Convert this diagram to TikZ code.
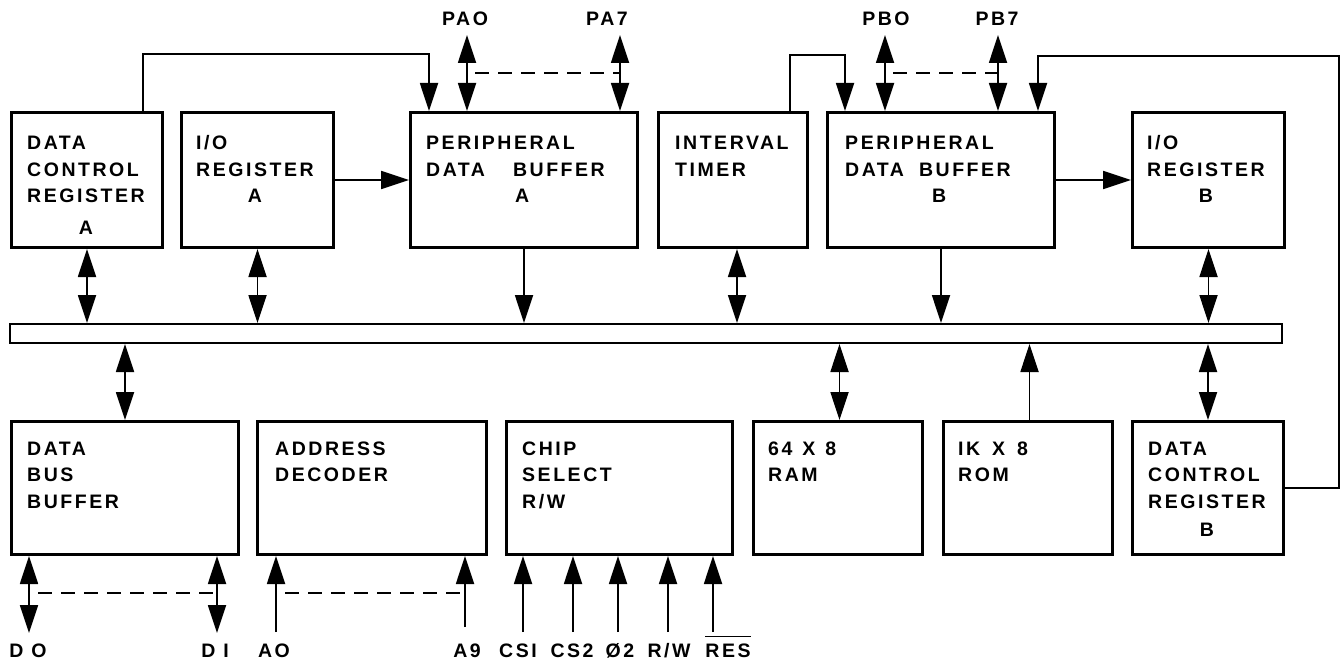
\documentclass[tikz,border=0pt]{standalone}
\usepackage{fontspec}
\newfontfamily\dfont{Liberation Sans}[UprightFont={* Bold}, LetterSpace=13]
\usetikzlibrary{arrows.meta}
\newcommand\tb[1]{\begin{tabular}[t]{@{}l@{}}#1\end{tabular}}
\newcommand\cc[1]{\multicolumn{1}{@{}c@{}}{#1}}
\newcommand\ovl[1]{\vbox{\hrule height 1.6pt\kern 6pt\hbox{#1}}}
\begin{document}
\begin{tikzpicture}[x=1pt,y=-1pt,
  box/.style={draw, line width=3pt, rectangle, inner sep=0pt, anchor=north west},
  txt/.style={inner sep=0pt, anchor=base west, font=\dfont\fontsize{19.5}{26.5}\selectfont},
  lbl/.style={inner sep=0pt, anchor=base, font=\dfont\fontsize{19.5}{26.5}\selectfont},
  arr/.style={line width=1.8pt, -{Triangle[length=28pt,width=18pt]}},
  dbl/.style={line width=1.8pt, {Triangle[length=28pt,width=18pt]}-{Triangle[length=28pt,width=18pt]}},
  dsh/.style={line width=1.8pt, dash pattern=on 14pt off 9pt}]
\useasboundingbox (0,0) rectangle (1343,663);
% top row
\node[box, minimum width=151pt, minimum height=135pt] (dcra) at (10,111) {};
\node[box, minimum width=152pt, minimum height=135pt] (ioa) at (180,111) {};
\node[box, minimum width=227pt, minimum height=135pt] (pdba) at (409,111) {};
\node[box, minimum width=149pt, minimum height=135pt] (tim) at (657,111) {};
\node[box, minimum width=227pt, minimum height=135pt] (pdbb) at (826,111) {};
\node[box, minimum width=152pt, minimum height=135pt] (iob) at (1131,111) {};
% bus
\node[draw, line width=2pt, rectangle, inner sep=0pt, anchor=north west, minimum width=1272pt, minimum height=19pt] (bus) at (9,323) {};
% bottom row
\node[box, minimum width=227pt, minimum height=133pt] (dbb) at (10,420) {};
\node[box, minimum width=229pt, minimum height=133pt] (adr) at (256,420) {};
\node[box, minimum width=226pt, minimum height=133pt] (chip) at (505,420) {};
\node[box, minimum width=169pt, minimum height=133pt] (ram) at (752,420) {};
\node[box, minimum width=169pt, minimum height=133pt] (rom) at (942,420) {};
\node[box, minimum width=151pt, minimum height=133pt] (dcrb) at (1131,420) {};
% texts
\node[txt] (dcra-t) at (27,150) {\tb{DATA\\CONTROL\\REGISTER\\[5.5pt]\cc{A}}};
\node[txt] (ioa-t) at (196,150) {\tb{I/O\\REGISTER\\\cc{A}}};
\node[txt] (pdba-t) at (426,150) {\tb{PERIPHERAL\\DATA\hspace{28pt}BUFFER\\\hspace*{89pt}A}};
\node[txt] (tim-t) at (675,150) {\tb{INTERVAL\\TIMER}};
\node[txt] (pdbb-t) at (845,150) {\tb{PERIPHERAL\\DATA\hspace{15pt}BUFFER\\\hspace*{87pt}B}};
\node[txt] (iob-t) at (1147,150) {\tb{I/O\\REGISTER\\\cc{B}}};
\node[txt] (dbb-t) at (27,455) {\tb{DATA\\BUS\\BUFFER}};
\node[txt] (adr-t) at (275,455) {\tb{ADDRESS\\DECODER}};
\node[txt] (chip-t) at (522,455) {\tb{CHIP\\SELECT\\R/W}};
\node[txt] (ram-t) at (768,455) {\tb{64\hspace{10pt}X\hspace{10pt}8\\RAM}};
\node[txt] (rom-t) at (958,455) {\tb{IK\hspace{12pt}X\hspace{12pt}8\\ROM}};
\node[txt] (dcrb-t) at (1148,455) {\tb{DATA\\CONTROL\\REGISTER\\[1.5pt]\cc{B}}};
% top labels
\node[lbl] (pa0l) at (465,26) {PAO};
\node[lbl] (pa7l) at (607,26) {PA7};
\node[lbl] (pb0l) at (886,26) {PBO};
\node[lbl] (pb7l) at (997,26) {PB7};
% bottom labels
\node[lbl] (d0l) at (28,657) {D O};
\node[lbl] (d1l) at (215,657) {D I};
\node[lbl] (a0l) at (274,657) {AO};
\node[lbl] (a9l) at (467,657) {A9};
\node[lbl] (cs1l) at (518,657) {CSI};
\node[lbl] (cs2l) at (572,657) {CS2};
\node[lbl] (phl) at (620,657) {Ø2};
\node[lbl] (rwl) at (669,657) {R/W};
\node[lbl] (resl) at (728,657) {\ovl{RES}};
% feedback lines
\coordinate (ta) at (143,54);
\draw[arr] (ta |- dcra.north) -- (ta) -| ([xshift=20pt]pdba.north west);
\coordinate (tt) at (790,55);
\draw[arr] (tt |- tim.north) -- (tt) -| ([xshift=19pt]pdbb.north west);
\coordinate (rc) at (1339,56);
\draw[arr] (dcrb.east) -| (rc) -| ([xshift=-18pt]pdbb.north east);
% ports
\coordinate (pa0) at (467,35);
\coordinate (pa7) at (620,35);
\coordinate (pb0) at (885,35);
\coordinate (pb7) at (998,35);
\draw[dbl] (pa0) -- (pa0 |- pdba.north);
\draw[dbl] (pa7) -- (pa7 |- pdba.north);
\draw[dbl] (pb0) -- (pb0 |- pdbb.north);
\draw[dbl] (pb7) -- (pb7 |- pdbb.north);
\coordinate (pad) at (475,73);
\draw[dsh] (pad) -- (pad -| pa7);
\coordinate (pbd) at (893,73);
\draw[dsh] (pbd) -- (pbd -| pb7);
% horizontal arrows
\draw[arr] (ioa.east) -- (ioa.east -| pdba.west);
\draw[arr] (pdbb.east) -- (pdbb.east -| iob.west);
% top to bus
\draw[dbl] (dcra.south) -- (dcra.south |- bus.north);
\draw[dbl] (ioa.south) -- (ioa.south |- bus.north);
\draw[arr] (pdba.south) -- (pdba.south |- bus.north);
\draw[dbl] ([xshift=4pt]tim.south) -- ([xshift=4pt]tim.south |- bus.north);
\draw[arr] (pdbb.south) -- (pdbb.south |- bus.north);
\draw[dbl] (iob.south) -- (iob.south |- bus.north);
% bus to bottom
\draw[dbl] (bus.south -| dbb.north) -- (dbb.north);
\draw[dbl] ([xshift=1.5pt]bus.south -| ram.north) -- ([xshift=1.5pt]ram.north);
\draw[arr] ([xshift=1.5pt]rom.north) -- ([xshift=1.5pt]rom.north |- bus.south);
\draw[dbl] (bus.south -| dcrb.north) -- (dcrb.north);
% bottom pins
\coordinate (d0) at (29,633);
\coordinate (d1) at (217,633);
\coordinate (a0) at (276,632);
\coordinate (a9) at (465,627);
\coordinate (cs1) at (523,632);
\coordinate (cs2) at (573,632);
\coordinate (ph) at (618,632);
\coordinate (rw) at (668,632);
\coordinate (res) at (713,632);
\draw[dbl] (d0) -- (d0 |- dbb.south);
\draw[dbl] (d1) -- (d1 |- dbb.south);
\draw[arr] (a0) -- (a0 |- adr.south);
\draw[arr] (a9) -- (a9 |- adr.south);
\draw[arr] (cs1) -- (cs1 |- chip.south);
\draw[arr] (cs2) -- (cs2 |- chip.south);
\draw[arr] (ph) -- (ph |- chip.south);
\draw[arr] (rw) -- (rw |- chip.south);
\draw[arr] (res) -- (res |- chip.south);
\coordinate (dd) at (38,593);
\draw[dsh] (dd) -- (dd -| d1);
\coordinate (ad) at (285,593);
\draw[dsh] (ad) -- (ad -| a9);
\end{tikzpicture}
\end{document}
